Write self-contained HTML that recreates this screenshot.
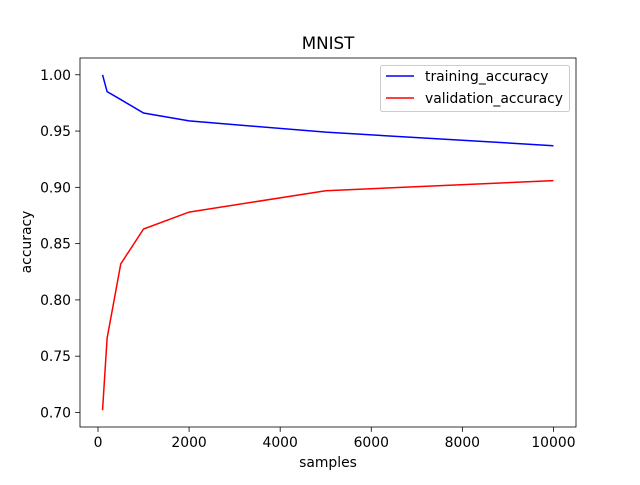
<!DOCTYPE html>
<html><head><meta charset="utf-8"><style>
body{margin:0;background:#fff}
svg text{font-family:"DejaVu Sans","Liberation Sans",sans-serif;fill:#000}
</style></head><body>
<svg width="640" height="480">
<rect width="640" height="480" fill="#fff"/>
<g id="plot"></g>
</svg>
<script>
const samples=[100,200,500,1000,2000,5000,10000];
const trainAcc=[1.0,0.985,0.978,0.966,0.959,0.949,0.937];
const valAcc=[0.702,0.766,0.832,0.863,0.878,0.897,0.906];
const xTicks=[0,2000,4000,6000,8000,10000];
const yTicks=[0.70,0.75,0.80,0.85,0.90,0.95,1.00];
const L=80,R=576,T=58,B=427;
const xmin=-395,xmax=10495;
const ymin=0.6871,ymax=1.0149;
const X=v=>L+(v-xmin)/(xmax-xmin)*(R-L);
const Y=v=>B-(v-ymin)/(ymax-ymin)*(B-T);
const g=document.getElementById('plot');
const NS='http://www.w3.org/2000/svg';
function mk(t,a,p){const e=document.createElementNS(NS,t);for(const k in a)e.setAttribute(k,a[k]);(p||g).appendChild(e);return e;}
xTicks.forEach(v=>{
 const l=mk('line',{x1:X(v),x2:X(v),y1:B,y2:B+4.9,stroke:'#000','stroke-width':0.8});
 
 
 const t=mk('text',{x:X(v),y:B+20,'font-size':13.9,'text-anchor':'middle'});t.textContent=v;
 
 
});
yTicks.forEach(v=>{
 const l=mk('line',{x1:L-4.9,x2:L,y1:Y(v),y2:Y(v),stroke:'#000','stroke-width':0.8});
 
 
 const t=mk('text',{x:L-9,y:Y(v)+5,'font-size':13.9,'text-anchor':'end'});t.textContent=v.toFixed(2);
 
 
});
function line(ys,c,n){const p=mk('polyline',{points:samples.map((s,i)=>X(s)+','+Y(ys[i])).join(' '),fill:'none',stroke:c,'stroke-width':1.5});
 
 }
line(trainAcc,'#0000ff','training-accuracy-line');
line(valAcc,'#ff0000','validation-accuracy-line');
const fr=mk('rect',{x:L,y:T,width:R-L,height:B-T,fill:'none',stroke:'#000','stroke-width':0.8});


</script>
<svg width="640" height="480" style="position:absolute;left:0;top:0">
<text x="328" y="49" font-size="16.7" text-anchor="middle">MNIST</text>
<text x="328" y="467" font-size="13.9" text-anchor="middle">samples</text>
<text transform="translate(31,242) rotate(-90)" font-size="13.9" text-anchor="middle">accuracy</text>
<g>
<rect x="380.5" y="65.5" width="189" height="46" rx="2" fill="#fff" fill-opacity="0.8" stroke="#ccc"/>
<line x1="386" x2="414" y1="76" y2="76" stroke="#0000ff" stroke-width="1.5"/>
<text x="425" y="81" font-size="13.9">training_accuracy</text>
<line x1="386" x2="414" y1="98" y2="98" stroke="#ff0000" stroke-width="1.5"/>
<text x="425" y="103" font-size="13.9">validation_accuracy</text>
</g>
</svg>
</body></html>
